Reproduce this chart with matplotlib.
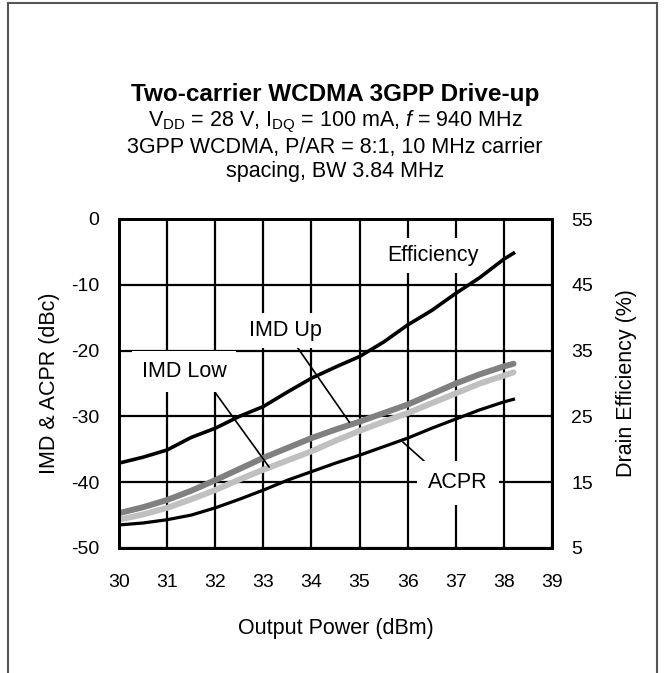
import matplotlib.pyplot as plt
from matplotlib.lines import Line2D

plt.rcParams['font.family'] = ['Liberation Sans', 'DejaVu Sans']
plt.rcParams['mathtext.fontset'] = 'custom'
plt.rcParams['mathtext.rm'] = 'Liberation Sans'
plt.rcParams['mathtext.it'] = 'Liberation Sans:italic'
plt.rcParams['axes.unicode_minus'] = False

# Output power (dBm)
pout = [30, 30.5, 31, 31.5, 32, 32.5, 33, 33.5, 34, 34.5, 35, 35.5, 36, 36.5, 37, 37.5, 38, 38.2]

# IMD / ACPR (dBc)
imd_up = [-44.7, -43.8, -42.7, -41.3, -39.7, -38.0, -36.3, -34.8, -33.3, -32.0, -30.8, -29.5, -28.2, -26.6, -25.0, -23.6, -22.4, -22.0]
imd_low = [-45.7, -44.9, -43.9, -42.6, -41.2, -39.6, -38.1, -36.7, -35.3, -33.7, -32.2, -30.8, -29.5, -28.0, -26.5, -25.0, -23.8, -23.3]
acpr = [-46.5, -46.2, -45.7, -45.0, -43.9, -42.6, -41.2, -39.7, -38.4, -37.1, -35.9, -34.6, -33.3, -31.8, -30.4, -29.0, -27.8, -27.4]

# Drain efficiency (%)
efficiency = [17.9, 18.8, 19.9, 21.8, 23.2, 25.0, 26.5, 28.7, 30.8, 32.5, 34.1, 36.3, 38.9, 41.1, 43.7, 46.1, 48.9, 49.8]

x_ticks = list(range(30, 40))
left_ticks = [0, -10, -20, -30, -40, -50]
right_ticks = [55, 45, 35, 25, 15, 5]

fig = plt.figure(figsize=(6.65, 6.73), dpi=100)

# outer frame (open at the bottom)
frame_col = '#555555'
fig.add_artist(Line2D([8 / 665, 8 / 665], [0, 1 - 3 / 673], color=frame_col, lw=1.5))
fig.add_artist(Line2D([8 / 665, 657 / 665], [1 - 3 / 673, 1 - 3 / 673], color=frame_col, lw=1.5))
fig.add_artist(Line2D([657 / 665, 657 / 665], [0, 1 - 3 / 673], color=frame_col, lw=1.5))

ax = fig.add_axes([119 / 665, 125 / 673, 433 / 665, 329 / 673])
ax2 = ax.twinx()

ax.plot(pout, imd_up, color='#808080', lw=4.3, solid_capstyle='round')
ax.plot(pout, imd_low, color='#c0c0c0', lw=4.3, solid_capstyle='round')
ax.plot(pout, acpr, color='black', lw=2.3)
ax2.plot(pout, efficiency, color='black', lw=2.6)

ax.set_xlim(30, 39)
ax.set_ylim(-50, 0)
ax2.set_ylim(5, 55)
ax.set_xticks(x_ticks)
ax.set_yticks(left_ticks)
ax2.set_yticks(right_ticks)
ax.grid(True, color='black', lw=1.6)
ax.set_axisbelow(True)

for a in (ax, ax2):
    for s in a.spines.values():
        s.set_linewidth(2)
    a.tick_params(length=0, labelsize=14)
ax.tick_params(axis='y', pad=14)
ax.tick_params(axis='x', pad=19)
ax2.tick_params(axis='y', pad=14)

ax.set_xlabel('Output Power (dBm)', fontsize=15.5, labelpad=19)
ax.set_ylabel('IMD & ACPR (dBc)', fontsize=15.5, labelpad=8)
ax2.set_ylabel('Drain Efficiency (%)', fontsize=15.5, labelpad=16)

box = dict(fc='white', ec='none', pad=5)
ax.text(36.53, -5.5, 'Efficiency', fontsize=15.5, ha='center', va='center', bbox=box)
ax.annotate('IMD Up', xy=(34.79, -30.9), xytext=(33.46, -16.9), fontsize=15.5,
            ha='center', va='center', bbox=box,
            arrowprops=dict(arrowstyle='-', color='black', lw=1.2, shrinkA=0, shrinkB=0,
                            relpos=(0.6, 0)))
ax.annotate('IMD Low', xy=(33.12, -37.7), xytext=(31.35, -23.2), fontsize=15.5,
            ha='center', va='center', bbox=dict(fc='white', ec='none', pad=7),
            arrowprops=dict(arrowstyle='-', color='black', lw=1.2, shrinkA=0, shrinkB=0,
                            relpos=(0.78, 0)))
ax.annotate('ACPR', xy=(35.9, -33.9), xytext=(37.04, -40.1), fontsize=15.5,
            ha='center', va='center', bbox=dict(fc='white', ec='none', pad=8),
            arrowprops=dict(arrowstyle='-', color='black', lw=1.2, shrinkA=0, shrinkB=0,
                            relpos=(0.15, 1)))

fig.text(0.504, 1 - 95 / 673, 'Two-carrier WCDMA 3GPP Drive-up', fontsize=17.5,
         fontweight='bold', ha='center', va='center')
fig.text(0.504, 1 - 122 / 673,
         r'V$_{\mathrm{DD}}$ = 28 V, I$_{\mathrm{DQ}}$ = 100 mA, $\mathit{f}$ = 940 MHz',
         fontsize=15.5, ha='center', va='center')
fig.text(0.504, 1 - 147 / 673, '3GPP WCDMA, P/AR = 8:1, 10 MHz carrier',
         fontsize=15.5, ha='center', va='center')
fig.text(0.504, 1 - 172 / 673, 'spacing, BW 3.84 MHz',
         fontsize=15.5, ha='center', va='center')

fig.savefig('out.png', dpi=100)
